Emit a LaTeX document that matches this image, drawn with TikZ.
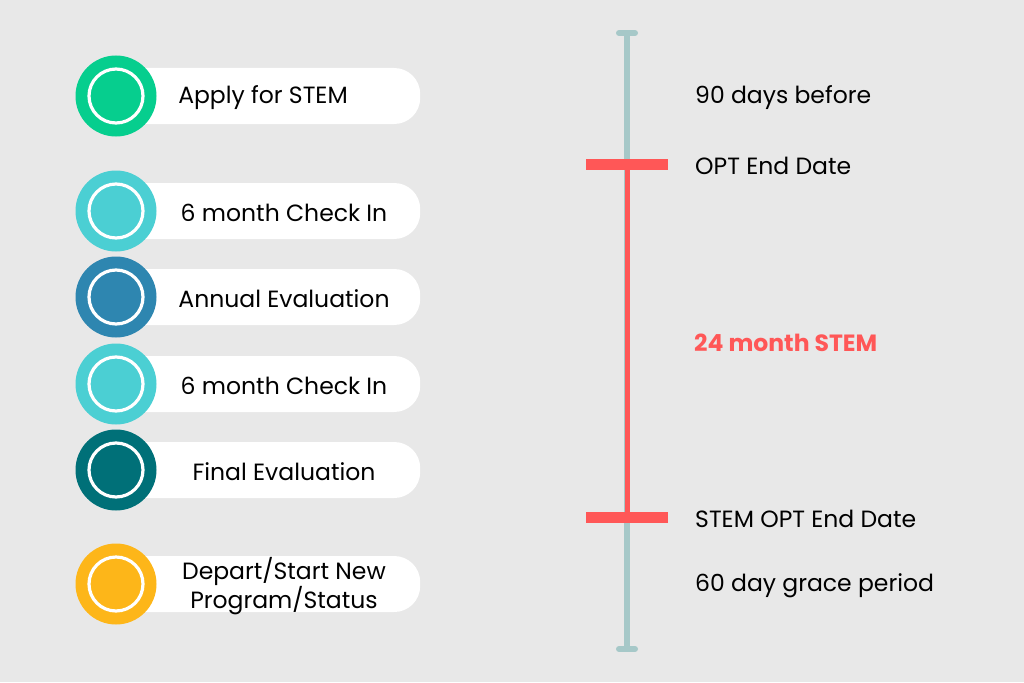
\documentclass[tikz,border=0pt]{standalone}
\usepackage{fontspec}
\setmainfont{Poppins}
\definecolor{bgGray}{HTML}{E8E8E8}
\definecolor{applyGreen}{HTML}{06CE8E}
\definecolor{checkTeal}{HTML}{4BCFD3}
\definecolor{evalBlue}{HTML}{2E86B0}
\definecolor{finalTeal}{HTML}{007078}
\definecolor{departAmber}{HTML}{FDB619}
\definecolor{lineGray}{HTML}{A6C8C8}
\definecolor{stemRed}{HTML}{FF5757}
\begin{document}
\begin{tikzpicture}[x=1pt,y=-1pt]
\tikzstyle{pill}=[fill=white,rounded corners=26pt,minimum width=304pt,minimum height=56pt,anchor=west,inner sep=0pt]
\tikzstyle{dot}=[circle,minimum size=81pt,inner sep=0pt]
\tikzstyle{ring}=[circle,draw=white,line width=3.2pt,minimum size=54pt,inner sep=0pt]
\tikzstyle{steptext}=[font=\fontsize{23.5}{27}\selectfont,align=center,inner sep=0pt]
\tikzstyle{datetext}=[font=\fontsize{23.5}{27}\selectfont,anchor=west,inner sep=0pt]
\tikzstyle{redbar}=[fill=stemRed,minimum width=82pt,minimum height=11pt,inner sep=0pt]
  \fill[bgGray] (0,0) rectangle (1024,682);
  % steps on the left
  \foreach \y/\col/\tx/\name/\txt in {96/applyGreen/263/apply/{Apply for STEM},
                                    211/checkTeal/284/checka/{6 month Check In},
                                    297/evalBlue/284/annual/{Annual Evaluation},
                                    384/checkTeal/284/checkb/{6 month Check In},
                                    470/finalTeal/284/final/{Final Evaluation},
                                    584/departAmber/284/depart/{Depart/Start New\\Program/Status}}
  {
    \node[pill] (\name-pill) at (116,\y) {};
    \node[dot,fill=\col] (\name) at (116,\y) {};
    \node[ring] (\name-ring) at (\name) {};
    \node[steptext] (\name-text) at (\tx,\y+2) {\txt};
  }
  % timeline
  \coordinate (top) at (627,33);
  \coordinate (bottom) at (627,649);
  \coordinate (optend) at (627,164);
  \coordinate (stemend) at (627,517);
  \draw[lineGray,line width=6pt] (top) -- (bottom);
  \draw[lineGray,line width=6pt,line cap=round] ([xshift=-8pt]top) -- ([xshift=8pt]top);
  \draw[lineGray,line width=6pt,line cap=round] ([xshift=-8pt]bottom) -- ([xshift=8pt]bottom);
  \draw[stemRed,line width=5pt] (optend) -- (stemend);
  \node[redbar] (optbar) at (optend) {};
  \node[redbar] (stembar) at (stemend) {};
  % dates on the right
  \node[datetext] (before) at (695,98) {90 days before};
  \node[datetext] (opt) at (695,166) {OPT End Date};
  \node[datetext,text=stemRed,font=\fontsize{23.5}{27}\selectfont\bfseries] (months) at (694,343) {24 month STEM};
  \node[datetext] (stemopt) at (695,519) {STEM OPT End Date};
  \node[datetext] (grace) at (695,586) {60 day grace period};
\end{tikzpicture}
\end{document}
